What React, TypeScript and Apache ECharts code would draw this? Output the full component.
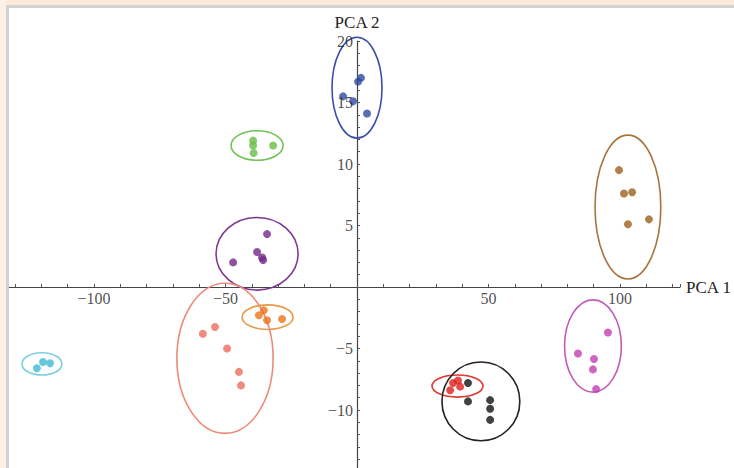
import React, { useEffect, useRef } from "react";
import * as echarts from "echarts";

// Cluster points [PCA1, PCA2]
const bluePts = [[-5.3, 15.5], [-1.5, 15.1], [0.4, 16.7], [1.5, 17.0], [3.8, 14.1]];
const greenPts = [[-39.5, 11.9], [-39.5, 11.5], [-39.3, 10.9], [-31.9, 11.5]];
const purplePts = [[-34.2, 4.3], [-38.0, 2.85], [-36.1, 2.4], [-35.7, 2.2], [-47.1, 2.0]];
const orangePts = [[-35.4, -1.9], [-37.3, -2.3], [-34.2, -2.7], [-28.5, -2.6]];
const salmonPts = [[-58.6, -3.8], [-54.0, -3.25], [-49.4, -5.0], [-44.9, -6.9], [-44.1, -8.0]];
const cyanPts = [[-119.4, -6.1], [-121.7, -6.6], [-116.7, -6.2]];
const redPts = [[36.5, -7.8], [38.4, -7.6], [39.2, -8.1], [35.4, -8.4]];
const blackPts = [[42.2, -7.8], [42.2, -9.3], [50.6, -9.2], [50.6, -9.9], [50.6, -10.8]];
const brownPts = [[99.6, 9.5], [101.5, 7.6], [104.6, 7.7], [103.0, 5.1], [111.0, 5.5]];
const magentaPts = [[95.4, -3.7], [84.0, -5.4], [90.1, -5.85], [89.7, -6.7], [90.9, -8.3]];

// Ellipses [centerX, centerY, radiusX, radiusY]
const blueEll = [0, 16.2, 9.5, 4.1];
const greenEll = [-38, 11.5, 9.9, 1.2];
const purpleEll = [-38, 2.7, 15.6, 2.95];
const orangeEll = [-34, -2.45, 9.7, 1.0];
const salmonEll = [-50.2, -5.8, 18.3, 6.1];
const cyanEll = [-119.8, -6.25, 7.6, 0.9];
const redEll = [38.2, -8.05, 9.7, 0.9];
const blackEll = [47.1, -9.3, 14.8, 3.2];
const brownEll = [103, 6.5, 12.5, 5.85];
const magentaEll = [89.7, -4.8, 10.8, 3.75];

const clusters = [
  { name: "blue", color: "#2d4b9f", stroke: "#3a4fa8", pts: bluePts, ell: blueEll },
  { name: "green", color: "#66be45", stroke: "#72c255", pts: greenPts, ell: greenEll },
  { name: "purple", color: "#74288a", stroke: "#7e3a92", pts: purplePts, ell: purpleEll },
  { name: "orange", color: "#ea761c", stroke: "#eb9a45", pts: orangePts, ell: orangeEll },
  { name: "salmon", color: "#ee6c5c", stroke: "#ef8a78", pts: salmonPts, ell: salmonEll },
  { name: "cyan", color: "#3fb9cf", stroke: "#7ccfdd", pts: cyanPts, ell: cyanEll },
  { name: "red", color: "#e0201a", stroke: "#e2352c", pts: redPts, ell: redEll },
  { name: "black", color: "#111111", stroke: "#222222", pts: blackPts, ell: blackEll },
  { name: "brown", color: "#9e5f1c", stroke: "#a8743e", pts: brownPts, ell: brownEll },
  { name: "magenta", color: "#c23fb3", stroke: "#c45ab8", pts: magentaPts, ell: magentaEll },
];

const xLabels = [-100, -50, 50, 100];
const yLabels = [-10, -5, 5, 10, 15, 20];

const FONT = "Liberation Serif";

const fmt = (v: number) => (v < 0 ? "\u2212" + Math.abs(v) : String(v));

export default function App() {
  const ref = useRef<HTMLDivElement>(null);
  useEffect(() => {
    if (!ref.current) return;
    const chart = echarts.init(ref.current, undefined, { renderer: "svg" });
    const series: any[] = [];
    clusters.forEach((c) => {
      series.push({
        type: "custom",
        name: c.name + "-ellipse",
        data: [c.ell],
        silent: true,
        z: 3,
        renderItem: (params: any, api: any) => {
          const center = api.coord([api.value(0), api.value(1)]);
          const size = api.size([api.value(2), api.value(3)]);
          return {
            type: "ellipse",
            shape: { cx: center[0], cy: center[1], rx: size[0], ry: size[1] },
            style: { fill: "none", stroke: c.stroke, lineWidth: 1.6 },
          };
        },
      });
      series.push({
        type: "scatter",
        name: c.name,
        data: c.pts,
        symbol: "circle",
        symbolSize: 8,
        z: 4,
        itemStyle: { color: c.color },
      });
    });
    // tick labels placed at the axes crossing zero
    series.push({
      type: "scatter",
      name: "xTickLabels",
      silent: true,
      z: 5,
      symbolSize: 0,
      data: xLabels.map((v) => [v, 0]),
      label: {
        show: true,
        position: "bottom",
        distance: 3,
        fontFamily: FONT,
        fontSize: 16,
        color: "#222",
        formatter: (p: any) => fmt(p.value[0]),
      },
    });
    series.push({
      type: "scatter",
      name: "yTickLabels",
      silent: true,
      z: 5,
      symbolSize: 0,
      data: yLabels.map((v) => [0, v]),
      label: {
        show: true,
        position: "left",
        distance: 4,
        fontFamily: FONT,
        fontSize: 16,
        color: "#222",
        formatter: (p: any) => fmt(p.value[1]),
      },
    });
    chart.setOption({
      animation: false,
      backgroundColor: "#ffffff",
      grid: { left: -11.2, right: 54, top: 41, bottom: -3.5, containLabel: false, outerBoundsMode: "none" },
      xAxis: {
        type: "value",
        min: -140,
        max: 122.8,
        interval: 10,
        name: "PCA 1",
        nameLocation: "end",
        nameGap: 6,
        nameTextStyle: { fontFamily: FONT, fontSize: 17, color: "#222" },
        axisLine: { onZero: true, lineStyle: { color: "#444", width: 1.2 } },
        axisTick: { inside: true, length: 3, lineStyle: { color: "#555" } },
        axisLabel: { show: false },
        splitLine: { show: false },
      },
      yAxis: {
        type: "value",
        min: -15,
        max: 20,
        interval: 1,
        name: "PCA 2",
        nameLocation: "end",
        nameGap: 10,
        nameTextStyle: { fontFamily: FONT, fontSize: 17, color: "#222" },
        axisLine: { onZero: true, lineStyle: { color: "#444", width: 1.2 } },
        axisTick: { inside: true, length: 3, lineStyle: { color: "#555" } },
        axisLabel: { show: false },
        splitLine: { show: false },
      },
      series,
      graphic: [
        { type: "rect", z: 100, shape: { x: 0, y: 0, width: 734, height: 5 }, style: { fill: "#fde9dc" } },
        { type: "rect", z: 100, shape: { x: 0, y: 0, width: 6, height: 468 }, style: { fill: "#fdf0e7" } },
        { type: "rect", z: 101, shape: { x: 6, y: 5, width: 728, height: 3 }, style: { fill: "#d2d2d2" } },
        { type: "rect", z: 101, shape: { x: 6, y: 5, width: 3, height: 463 }, style: { fill: "#d2d2d2" } },
      ],
    });
    return () => chart.dispose();
  }, []);
  return (
    <div
      ref={ref}
      style={{ position: "absolute", left: 0, top: 0, width: 734, height: 468 }}
    />
  );
}
